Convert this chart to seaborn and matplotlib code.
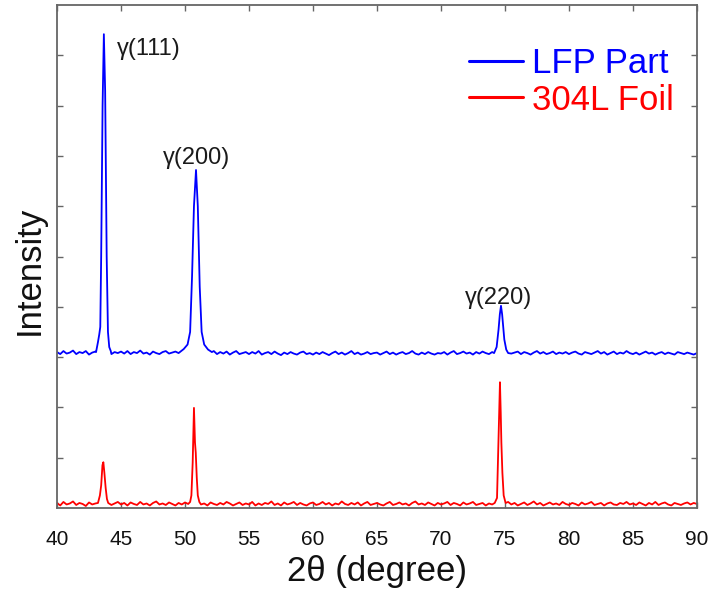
import numpy as np
import pandas as pd
import seaborn as sns
import matplotlib.pyplot as plt

# baseline readings every 0.25 deg (2theta 40 ... 90), one row per 5 deg
base_2theta = np.arange(40, 90.01, 0.25)
lfp_base = [
    3.10, 3.06, 3.12, 3.07, 3.09, 3.13, 3.06, 3.10, 3.08, 3.12, 3.05, 3.09, 3.11, 3.07, 3.10, 3.08, 3.12, 3.06, 3.10, 3.08,
    3.11, 3.07, 3.12, 3.06, 3.10, 3.08, 3.13, 3.07, 3.09, 3.05, 3.11, 3.08, 3.06, 3.10, 3.12, 3.07, 3.09, 3.11, 3.08, 3.12,
    3.12, 3.15, 3.11, 3.14, 3.10, 3.12, 3.07, 3.11, 3.08, 3.12, 3.06, 3.10, 3.07, 3.11, 3.05, 3.09, 3.12, 3.06, 3.08, 3.10,
    3.06, 3.10, 3.07, 3.12, 3.05, 3.08, 3.10, 3.06, 3.11, 3.07, 3.04, 3.09, 3.06, 3.10, 3.07, 3.05, 3.09, 3.11, 3.06, 3.08,
    3.05, 3.09, 3.06, 3.10, 3.07, 3.04, 3.08, 3.11, 3.06, 3.09, 3.05, 3.08, 3.12, 3.06, 3.09, 3.05, 3.07, 3.10, 3.06, 3.08,
    3.09, 3.05, 3.08, 3.11, 3.06, 3.09, 3.05, 3.08, 3.10, 3.06, 3.08, 3.12, 3.07, 3.05, 3.09, 3.06, 3.10, 3.07, 3.05, 3.08,
    3.07, 3.10, 3.05, 3.09, 3.12, 3.06, 3.08, 3.11, 3.07, 3.09, 3.05, 3.10, 3.07, 3.11, 3.08, 3.06, 3.10, 3.08, 3.11, 3.09,
    3.10, 3.12, 3.07, 3.09, 3.11, 3.06, 3.10, 3.08, 3.05, 3.09, 3.12, 3.07, 3.10, 3.06, 3.08, 3.11, 3.06, 3.09, 3.07, 3.10,
    3.06, 3.09, 3.11, 3.07, 3.05, 3.10, 3.08, 3.06, 3.09, 3.12, 3.07, 3.10, 3.05, 3.08, 3.11, 3.06, 3.09, 3.07, 3.12, 3.08,
    3.06, 3.09, 3.05, 3.08, 3.11, 3.07, 3.09, 3.05, 3.08, 3.10, 3.06, 3.09, 3.07, 3.05, 3.10, 3.08, 3.06, 3.09, 3.07, 3.05,
    3.08]
foil_base = [
    0.10, 0.05, 0.12, 0.07, 0.09, 0.13, 0.06, 0.10, 0.08, 0.04, 0.11, 0.07, 0.09, 0.05, 0.12, 0.08, 0.10, 0.06, 0.09, 0.12,
    0.07, 0.10, 0.05, 0.11, 0.08, 0.06, 0.12, 0.07, 0.09, 0.05, 0.10, 0.13, 0.07, 0.09, 0.06, 0.11, 0.08, 0.05, 0.10, 0.07,
    0.11, 0.08, 0.06, 0.10, 0.13, 0.07, 0.09, 0.05, 0.11, 0.08, 0.06, 0.10, 0.07, 0.12, 0.09, 0.05, 0.08, 0.11, 0.06, 0.09,
    0.07, 0.12, 0.05, 0.09, 0.06, 0.10, 0.08, 0.13, 0.06, 0.09, 0.05, 0.11, 0.07, 0.09, 0.12, 0.06, 0.10, 0.07, 0.05, 0.09,
    0.11, 0.06, 0.08, 0.12, 0.07, 0.10, 0.05, 0.09, 0.07, 0.13, 0.08, 0.06, 0.10, 0.07, 0.11, 0.05, 0.09, 0.12, 0.06, 0.08,
    0.10, 0.07, 0.05, 0.09, 0.12, 0.06, 0.08, 0.11, 0.07, 0.09, 0.05, 0.10, 0.13, 0.07, 0.09, 0.06, 0.11, 0.08, 0.05, 0.10,
    0.07, 0.09, 0.12, 0.06, 0.10, 0.08, 0.05, 0.11, 0.07, 0.09, 0.12, 0.06, 0.08, 0.10, 0.05, 0.09, 0.07, 0.11, 0.08, 0.06,
    0.09, 0.12, 0.07, 0.10, 0.05, 0.08, 0.11, 0.06, 0.09, 0.13, 0.07, 0.10, 0.05, 0.08, 0.11, 0.07, 0.09, 0.06, 0.12, 0.08,
    0.06, 0.10, 0.08, 0.05, 0.11, 0.07, 0.09, 0.12, 0.06, 0.08, 0.10, 0.05, 0.09, 0.11, 0.07, 0.06, 0.10, 0.08, 0.12, 0.07,
    0.09, 0.06, 0.11, 0.08, 0.05, 0.10, 0.07, 0.12, 0.06, 0.09, 0.11, 0.07, 0.05, 0.10, 0.08, 0.06, 0.09, 0.11, 0.07, 0.10,
    0.08]

# peak profiles (2theta, intensity)
lfp_peaks = [
    ([43.05, 43.2, 43.3, 43.38, 43.45, 43.56, 43.66, 43.76, 43.88, 43.98, 44.08, 44.2],
     [3.10, 3.30, 3.45, 3.60, 5.00, 8.00, 9.42, 8.30, 5.00, 3.50, 3.20, 3.12]),
    ([49.6, 49.9, 50.2, 50.4, 50.55, 50.7, 50.86, 51.0, 51.15, 51.3, 51.5, 51.8, 52.1],
     [3.10, 3.16, 3.25, 3.50, 4.60, 6.00, 6.72, 6.00, 4.40, 3.50, 3.25, 3.15, 3.10]),
    ([74.15, 74.35, 74.5, 74.6, 74.69, 74.78, 74.85, 74.95, 75.1, 75.25],
     [3.08, 3.20, 3.55, 3.85, 4.02, 3.85, 3.65, 3.35, 3.15, 3.08]),
]
foil_peaks = [
    ([43.2, 43.35, 43.45, 43.55, 43.62, 43.7, 43.8, 43.9, 44.0],
     [0.10, 0.25, 0.45, 0.85, 0.91, 0.70, 0.40, 0.18, 0.10]),
    ([50.4, 50.5, 50.6, 50.7, 50.78, 50.84, 50.92, 51.0, 51.12],
     [0.12, 0.25, 0.90, 1.99, 1.30, 1.10, 0.60, 0.25, 0.12]),
    ([74.2, 74.38, 74.45, 74.5, 74.55, 74.61, 74.67, 74.72, 74.8, 74.9, 75.05],
     [0.10, 0.20, 0.90, 1.35, 1.90, 2.50, 1.90, 1.30, 0.70, 0.25, 0.10]),
]

series_names = ["LFP Part", "304L Foil"]
series_colors = ["#0000ff", "#ff0000"]
peak_labels = ["γ(111)", "γ(200)", "γ(220)"]
label_pos = [(44.7, 9.12), (48.3, 6.95), (71.9, 4.18)]


def build(name, base, peaks):
    xs, ys = [], []
    for x, y in zip(base_2theta, base):
        if any(px[0] <= x <= px[-1] for px, _ in peaks):
            continue
        xs.append(x)
        ys.append(y)
    for px, py in peaks:
        xs += px
        ys += py
    return pd.DataFrame({"two_theta": xs, "intensity": ys, "sample": name})


df = pd.concat([build(series_names[0], lfp_base, lfp_peaks),
                build(series_names[1], foil_base, foil_peaks)])

sns.set_theme(style="ticks")
plt.rcParams['font.family'] = ['Liberation Sans', 'DejaVu Sans']

fig = plt.figure(figsize=(7.11, 5.90), dpi=100)
ax = fig.add_axes([0.0802, 0.139, 0.900, 0.8525])

sns.lineplot(data=df, x="two_theta", y="intensity", hue="sample",
             palette=dict(zip(series_names, series_colors)),
             estimator=None, sort=True, linewidth=1.3, ax=ax)

for txt, (x, y) in zip(peak_labels, label_pos):
    ax.text(x, y, txt, fontsize=17, ha="left", va="center", color="#1a1a1a")

ax.set_xlim(40, 90)
ax.set_ylim(0, 10)
ax.set_xticks(range(40, 91, 5))
ax.set_yticks(range(1, 10))
ax.set_yticklabels([])
ax.tick_params(direction="in", top=True, right=True, length=4, width=1,
               color="#666666", labelcolor="#111111")
ax.tick_params(axis="x", labelsize=15, pad=16)
for s in ax.spines.values():
    s.set_color("#666666")
    s.set_linewidth(1.3)

ax.set_xlabel("2θ (degree)", fontsize=25, labelpad=4, color="#111111")
ax.set_ylabel("Intensity", fontsize=25, color="#111111")
ax.yaxis.set_label_coords(-0.018, 0.473)

leg = ax.legend(loc="upper right", bbox_to_anchor=(0.986, 0.944), frameon=False,
                fontsize=25, handlelength=1.55, handletextpad=0.26,
                labelspacing=0.1, labelcolor="linecolor", borderaxespad=0)
for line in leg.get_lines():
    line.set_linewidth(2.2)

fig.savefig("out.png", dpi=100)
